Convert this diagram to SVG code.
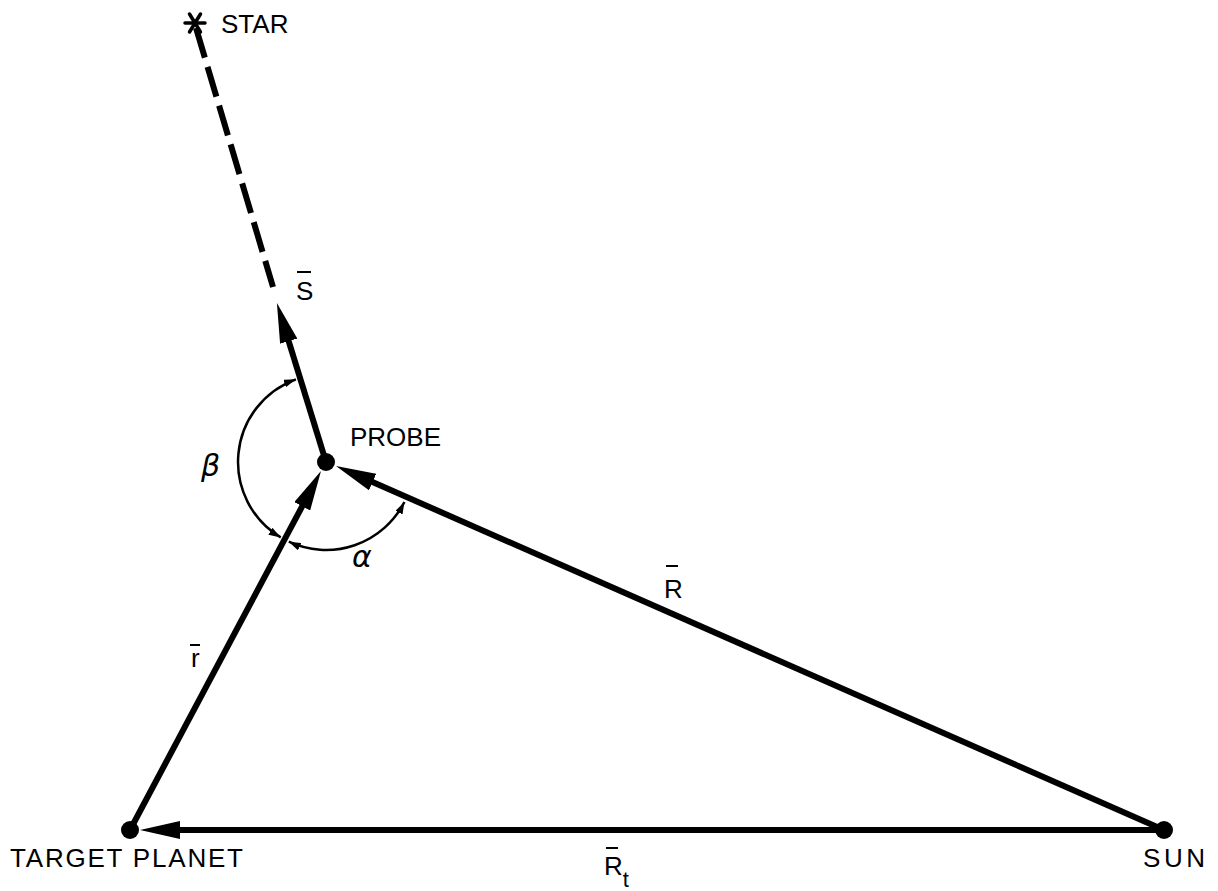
<svg xmlns="http://www.w3.org/2000/svg" width="1218" height="891" viewBox="0 0 1218 891">
  <style>
    .lbl { font-family: "Liberation Sans", "DejaVu Sans", sans-serif; font-size: 26px; fill: #000; }
    .greek { font-family: "DejaVu Sans", "Liberation Serif", serif; font-size: 30px; font-style: italic; fill: #000; }
    .vec { stroke: #000; stroke-width: 6; fill: none; }
    .arc { stroke: #000; stroke-width: 2.5; fill: none; }
    .bar { stroke: #000; stroke-width: 2; }
  </style>
  <defs>
    <marker id="big" viewBox="0 0 40 18" refX="20" refY="9" markerWidth="40" markerHeight="18" markerUnits="userSpaceOnUse" orient="auto">
      <path d="M0,0 L40,9 L0,18 z" fill="#000"/>
    </marker>
    <marker id="small" viewBox="0 0 12 8" refX="12" refY="4" markerWidth="12" markerHeight="8" markerUnits="userSpaceOnUse" orient="auto-start-reverse">
      <path d="M0,0 L12,4 L0,8 z" fill="#000"/>
    </marker>
  </defs>
  <rect width="1218" height="891" fill="#fff"/>

  <g id="connectors">
    <line class="vec" x1="196" y1="28" x2="273" y2="287" stroke-dasharray="31 9.5" stroke-width="5"/>
    <line id="vec-S" class="vec" x1="326" y1="462" x2="282.8" y2="322.1" marker-end="url(#big)"/>
    <line id="vec-r" class="vec" x1="130" y1="830" x2="311.6" y2="488.6" marker-end="url(#big)"/>
    <line id="vec-R" class="vec" x1="1164" y1="830" x2="354.3" y2="474" marker-end="url(#big)"/>
    <line id="vec-Rt" class="vec" x1="1164" y1="830" x2="160" y2="830" marker-end="url(#big)"/>
    <path id="arc-beta" class="arc" d="M295.9,379.3 A88,88 0 0 0 280.7,537.4" marker-start="url(#small)" marker-end="url(#small)"/>
    <path id="arc-alpha" class="arc" d="M288.8,541.7 A88,88 0 0 0 404.4,502" marker-start="url(#small)" marker-end="url(#small)"/>
  </g>

  <g id="star">
    <g stroke="#000" stroke-width="3.5" stroke-linecap="round">
      <line x1="185" y1="23" x2="205" y2="23"/>
      <line x1="189.5" y1="14" x2="200.5" y2="32"/>
      <line x1="200.5" y1="14" x2="189.5" y2="32"/>
    </g>
    <text class="lbl" x="221" y="33">STAR</text>
  </g>

  <g id="probe">
    <circle cx="326" cy="462" r="9" fill="#000"/>
    <text class="lbl" x="350" y="446">PROBE</text>
  </g>

  <g id="target-planet">
    <circle cx="130" cy="830" r="9" fill="#000"/>
    <text class="lbl" x="10" y="867" font-size="28" textLength="233" lengthAdjust="spacing">TARGET PLANET</text>
  </g>

  <g id="sun">
    <circle cx="1164" cy="830" r="9" fill="#000"/>
    <text class="lbl" x="1143" y="867" font-size="28" textLength="62" lengthAdjust="spacing">SUN</text>
  </g>

  <g id="labels">
    <text class="lbl" x="296" y="300">S</text>
    <line class="bar" x1="297" y1="272" x2="311" y2="272"/>
    <text class="lbl" x="664" y="598">R</text>
    <line class="bar" x1="666" y1="566" x2="678" y2="566"/>
    <text class="lbl" x="191" y="667">r</text>
    <line class="bar" x1="190" y1="645" x2="200" y2="645"/>
    <text class="lbl" x="604" y="875">R<tspan dy="12" font-size="22">t</tspan></text>
    <line class="bar" x1="606" y1="848" x2="618" y2="848"/>
    <text class="greek" x="201" y="476">β</text>
    <text class="greek" x="352" y="567">α</text>
  </g>
</svg>
